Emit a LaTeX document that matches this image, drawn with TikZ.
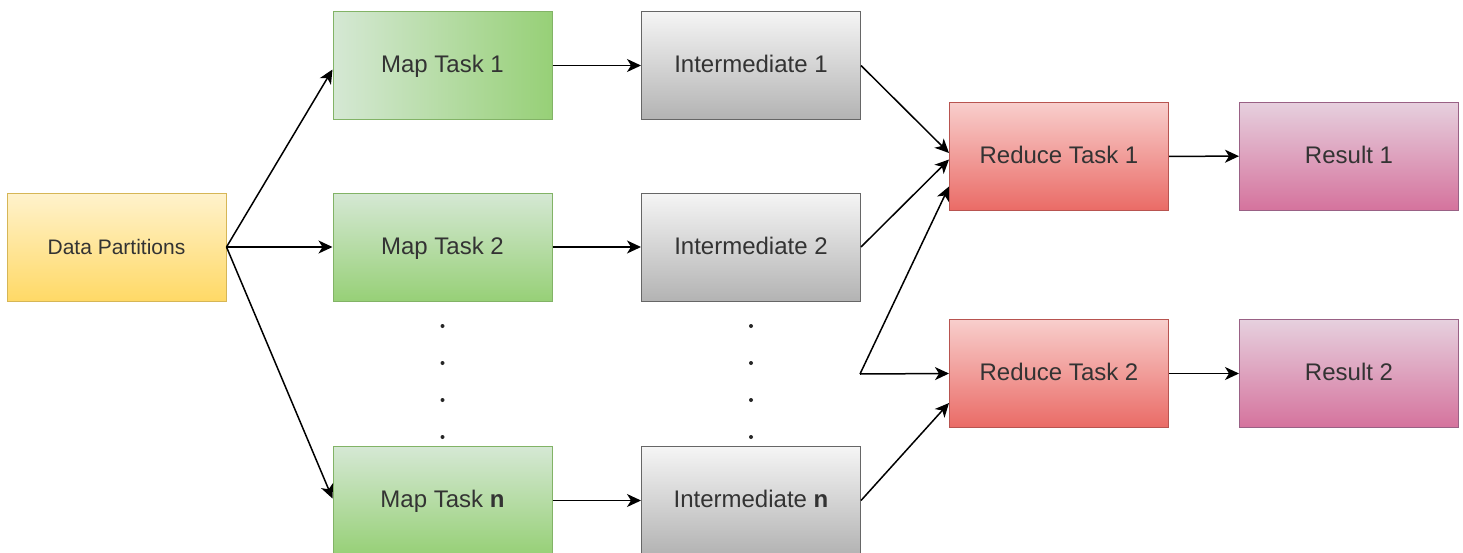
\documentclass[tikz,border=0pt]{standalone}
\usepackage{fontspec}
\setmainfont{Liberation Sans}
\usetikzlibrary{arrows.meta}
\definecolor{dpTop}{HTML}{FFF2CC}
\definecolor{dpBot}{HTML}{FFD966}
\definecolor{dpLine}{HTML}{D6B656}
\definecolor{mapA}{HTML}{D5E8D4}
\definecolor{mapB}{HTML}{97D077}
\definecolor{mapLine}{HTML}{82B366}
\definecolor{intA}{HTML}{F5F5F5}
\definecolor{intB}{HTML}{B3B3B3}
\definecolor{intLine}{HTML}{666666}
\definecolor{redA}{HTML}{F8CECC}
\definecolor{redB}{HTML}{EA6B66}
\definecolor{redLine}{HTML}{B85450}
\definecolor{resA}{HTML}{E6D0DE}
\definecolor{resB}{HTML}{D5739D}
\definecolor{resLine}{HTML}{996185}
\definecolor{txt}{HTML}{333333}
\tikzset{
  box/.style={rectangle, minimum width=109.5pt, minimum height=54pt, inner sep=0pt,
              line width=0.5pt, text=txt, font=\fontsize{12}{14}\selectfont,
              text height=8.6pt, text depth=1.6pt},
  dpbox/.style={box, draw=dpLine, top color=dpTop, bottom color=dpBot, font=\fontsize{10.5}{12}\selectfont},
  mapboxh/.style={box, draw=mapLine, left color=mapA, right color=mapB},
  mapboxv/.style={box, draw=mapLine, top color=mapA, bottom color=mapB},
  intbox/.style={box, draw=intLine, top color=intA, bottom color=intB},
  redbox/.style={box, draw=redLine, top color=redA, bottom color=redB},
  resbox/.style={box, draw=resLine, top color=resA, bottom color=resB},
  conn/.style={line width=0.75pt, -{Stealth[length=7pt,width=6.5pt,inset=2pt]}},
  dotmark/.style={circle, fill=black!85, inner sep=0pt, minimum size=2pt}
}
\begin{document}
\begin{tikzpicture}[x=0.5pt,y=-0.5pt]
\clip (0,0) rectangle (1463,552);
\fill[white] (0,0) rectangle (1463,552);

\node[dpbox] (dp) at (116.5,247) {Data Partitions};

\node[mapboxh] (m1) at (442.5,65.5) {Map Task 1};
\node[mapboxv] (m2) at (442.5,247) {Map Task 2};
\node[mapboxv] (mn) at (442.5,500.5) {Map Task \textbf{n}};

\node[intbox] (i1) at (751,65.5) {Intermediate 1};
\node[intbox] (i2) at (751,247) {Intermediate 2};
\node[intbox] (in) at (751,500.5) {Intermediate \textbf{n}};

\node[redbox] (r1) at (1059,156.5) {Reduce Task 1};
\node[redbox] (r2) at (1059,373.5) {Reduce Task 2};

\node[resbox] (s1) at (1349,156) {Result 1};
\node[resbox] (s2) at (1349,373.5) {Result 2};

\foreach \yy [count=\k] in {326,363,400,437} {
  \node[dotmark] (md\k) at (442.5,\yy) {};
  \node[dotmark] (id\k) at (751,\yy) {};
}

\coordinate (split) at (860,374);

\draw[conn] (dp.east) -- ([yshift=-2pt]m1.west);
\draw[conn] (dp.east) -- (m2.west);
\draw[conn] (dp.east) -- ([yshift=1pt]mn.west);

\draw[conn] (m1) -- (i1);
\draw[conn] (m2) -- (i2);
\draw[conn] (mn) -- (in);

\draw[conn] (i1.east) -- ([yshift=1.75pt]r1.west);
\draw[conn] (i2.east) -- ([yshift=-1.5pt]r1.west);
\draw[conn] (split) -- ([yshift=-15pt]r1.west);
\draw[conn] (split) -- (r2.west);
\draw[conn] (in.east) -- ([yshift=-14.75pt]r2.west);

\draw[conn] (r1) -- (s1);
\draw[conn] (r2) -- (s2);
\end{tikzpicture}
\end{document}
